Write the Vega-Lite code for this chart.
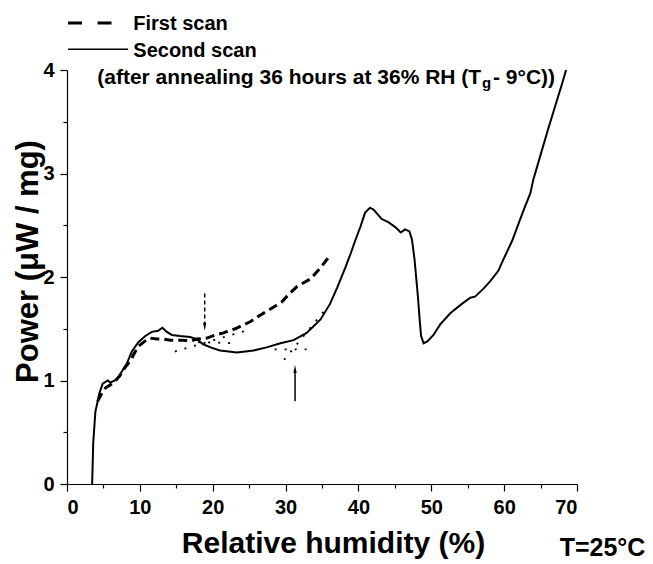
{
  "$schema": "https://vega.github.io/schema/vega-lite/v6.json",
  "width": 510,
  "height": 414,
  "autosize": "none",
  "padding": {"left": 67, "top": 70, "right": 76, "bottom": 80},
  "background": "white",
  "config": {
    "view": {"stroke": null},
    "axis": {"grid": false, "domainColor": "black", "tickColor": "black", "labelColor": "black", "titleColor": "black", "labelFont": "Liberation Sans", "titleFont": "Liberation Sans", "labelFontWeight": "bold", "labelFontSize": 20, "titleFontWeight": "bold", "domainWidth": 1.2, "tickWidth": 1.2},
    "text": {"font": "Liberation Sans", "fontWeight": "bold", "color": "black"}
  },
  "datasets": {
    "scans": [
      {"scan": "Second scan", "rh": 3.45, "p": 0.0},
      {"scan": "Second scan", "rh": 3.6, "p": 0.4},
      {"scan": "Second scan", "rh": 3.9, "p": 0.7},
      {"scan": "Second scan", "rh": 4.15, "p": 0.78},
      {"scan": "Second scan", "rh": 4.45, "p": 0.88},
      {"scan": "Second scan", "rh": 4.9, "p": 0.97},
      {"scan": "Second scan", "rh": 5.6, "p": 1.0},
      {"scan": "Second scan", "rh": 5.95, "p": 0.98},
      {"scan": "Second scan", "rh": 6.85, "p": 1.01},
      {"scan": "Second scan", "rh": 7.55, "p": 1.09},
      {"scan": "Second scan", "rh": 8.25, "p": 1.17},
      {"scan": "Second scan", "rh": 8.9, "p": 1.28},
      {"scan": "Second scan", "rh": 9.8, "p": 1.37},
      {"scan": "Second scan", "rh": 10.75, "p": 1.43},
      {"scan": "Second scan", "rh": 11.65, "p": 1.47},
      {"scan": "Second scan", "rh": 12.5, "p": 1.48},
      {"scan": "Second scan", "rh": 13.1, "p": 1.51},
      {"scan": "Second scan", "rh": 13.7, "p": 1.47},
      {"scan": "Second scan", "rh": 14.4, "p": 1.44},
      {"scan": "Second scan", "rh": 15.5, "p": 1.43},
      {"scan": "Second scan", "rh": 16.9, "p": 1.42},
      {"scan": "Second scan", "rh": 17.8, "p": 1.4},
      {"scan": "Second scan", "rh": 18.7, "p": 1.35},
      {"scan": "Second scan", "rh": 19.7, "p": 1.32},
      {"scan": "Second scan", "rh": 21.0, "p": 1.29},
      {"scan": "Second scan", "rh": 22.2, "p": 1.28},
      {"scan": "Second scan", "rh": 23.3, "p": 1.27},
      {"scan": "Second scan", "rh": 24.5, "p": 1.28},
      {"scan": "Second scan", "rh": 25.6, "p": 1.29},
      {"scan": "Second scan", "rh": 27.4, "p": 1.32},
      {"scan": "Second scan", "rh": 29.3, "p": 1.36},
      {"scan": "Second scan", "rh": 31.1, "p": 1.39},
      {"scan": "Second scan", "rh": 32.9, "p": 1.46},
      {"scan": "Second scan", "rh": 34.8, "p": 1.59},
      {"scan": "Second scan", "rh": 36.1, "p": 1.74},
      {"scan": "Second scan", "rh": 37.1, "p": 1.9},
      {"scan": "Second scan", "rh": 38.2, "p": 2.09},
      {"scan": "Second scan", "rh": 38.9, "p": 2.22},
      {"scan": "Second scan", "rh": 39.6, "p": 2.36},
      {"scan": "Second scan", "rh": 40.3, "p": 2.49},
      {"scan": "Second scan", "rh": 40.9, "p": 2.62},
      {"scan": "Second scan", "rh": 41.6, "p": 2.67},
      {"scan": "Second scan", "rh": 42.1, "p": 2.65},
      {"scan": "Second scan", "rh": 43.2, "p": 2.56},
      {"scan": "Second scan", "rh": 44.1, "p": 2.53},
      {"scan": "Second scan", "rh": 45.1, "p": 2.48},
      {"scan": "Second scan", "rh": 45.8, "p": 2.43},
      {"scan": "Second scan", "rh": 46.4, "p": 2.46},
      {"scan": "Second scan", "rh": 47.0, "p": 2.44},
      {"scan": "Second scan", "rh": 47.35, "p": 2.36},
      {"scan": "Second scan", "rh": 47.7, "p": 2.17},
      {"scan": "Second scan", "rh": 47.95, "p": 1.98},
      {"scan": "Second scan", "rh": 48.2, "p": 1.78},
      {"scan": "Second scan", "rh": 48.4, "p": 1.59},
      {"scan": "Second scan", "rh": 48.6, "p": 1.43},
      {"scan": "Second scan", "rh": 48.95, "p": 1.36},
      {"scan": "Second scan", "rh": 49.5, "p": 1.38},
      {"scan": "Second scan", "rh": 50.3, "p": 1.44},
      {"scan": "Second scan", "rh": 51.2, "p": 1.54},
      {"scan": "Second scan", "rh": 52.6, "p": 1.65},
      {"scan": "Second scan", "rh": 54.2, "p": 1.74},
      {"scan": "Second scan", "rh": 55.35, "p": 1.8},
      {"scan": "Second scan", "rh": 56.0, "p": 1.81},
      {"scan": "Second scan", "rh": 57.2, "p": 1.89},
      {"scan": "Second scan", "rh": 58.1, "p": 1.96},
      {"scan": "Second scan", "rh": 59.2, "p": 2.06},
      {"scan": "Second scan", "rh": 59.9, "p": 2.17},
      {"scan": "Second scan", "rh": 61.1, "p": 2.35},
      {"scan": "Second scan", "rh": 62.0, "p": 2.52},
      {"scan": "Second scan", "rh": 62.7, "p": 2.65},
      {"scan": "Second scan", "rh": 63.6, "p": 2.81},
      {"scan": "Second scan", "rh": 64.0, "p": 2.94},
      {"scan": "Second scan", "rh": 65.0, "p": 3.18},
      {"scan": "Second scan", "rh": 66.0, "p": 3.42},
      {"scan": "Second scan", "rh": 67.0, "p": 3.65},
      {"scan": "Second scan", "rh": 68.0, "p": 3.88},
      {"scan": "Second scan", "rh": 68.5, "p": 4.0},
      {"scan": "First scan", "rh": 4.2, "p": 0.8},
      {"scan": "First scan", "rh": 4.8, "p": 0.88},
      {"scan": "First scan", "rh": 5.3, "p": 0.93},
      {"scan": "First scan", "rh": 6.0, "p": 0.96},
      {"scan": "First scan", "rh": 6.4, "p": 0.98},
      {"scan": "First scan", "rh": 7.2, "p": 1.04},
      {"scan": "First scan", "rh": 8.0, "p": 1.13},
      {"scan": "First scan", "rh": 8.7, "p": 1.19},
      {"scan": "First scan", "rh": 9.3, "p": 1.27},
      {"scan": "First scan", "rh": 9.8, "p": 1.33},
      {"scan": "First scan", "rh": 10.7, "p": 1.38},
      {"scan": "First scan", "rh": 11.4, "p": 1.41},
      {"scan": "First scan", "rh": 12.35, "p": 1.4},
      {"scan": "First scan", "rh": 13.3, "p": 1.4},
      {"scan": "First scan", "rh": 14.2, "p": 1.39},
      {"scan": "First scan", "rh": 15.0, "p": 1.39},
      {"scan": "First scan", "rh": 15.8, "p": 1.39},
      {"scan": "First scan", "rh": 16.9, "p": 1.38},
      {"scan": "First scan", "rh": 17.8, "p": 1.4},
      {"scan": "First scan", "rh": 19.2, "p": 1.41},
      {"scan": "First scan", "rh": 20.35, "p": 1.44},
      {"scan": "First scan", "rh": 21.5, "p": 1.46},
      {"scan": "First scan", "rh": 22.2, "p": 1.48},
      {"scan": "First scan", "rh": 23.1, "p": 1.5},
      {"scan": "First scan", "rh": 24.0, "p": 1.53},
      {"scan": "First scan", "rh": 25.2, "p": 1.57},
      {"scan": "First scan", "rh": 26.5, "p": 1.63},
      {"scan": "First scan", "rh": 27.45, "p": 1.67},
      {"scan": "First scan", "rh": 28.6, "p": 1.72},
      {"scan": "First scan", "rh": 29.5, "p": 1.76},
      {"scan": "First scan", "rh": 30.4, "p": 1.83},
      {"scan": "First scan", "rh": 31.6, "p": 1.91},
      {"scan": "First scan", "rh": 33.4, "p": 1.98},
      {"scan": "First scan", "rh": 34.8, "p": 2.09},
      {"scan": "First scan", "rh": 35.9, "p": 2.19}
    ],
    "guides": [
      {"seg": "tangent 1", "rh": 14.8, "p": 1.28},
      {"seg": "tangent 1", "rh": 24.5, "p": 1.48},
      {"seg": "baseline 1", "rh": 18.0, "p": 1.37},
      {"seg": "baseline 1", "rh": 23.5, "p": 1.36},
      {"seg": "baseline 2", "rh": 28.5, "p": 1.3},
      {"seg": "baseline 2", "rh": 34.0, "p": 1.3},
      {"seg": "tangent 2", "rh": 29.8, "p": 1.2},
      {"seg": "tangent 2", "rh": 35.5, "p": 1.69}
    ]
  },
  "resolve": {"axis": {"x": "independent", "y": "independent"}},
  "layer": [
    {
      "data": {"name": "scans"},
      "transform": [{"filter": "datum.scan === 'Second scan'"}],
      "mark": {"type": "line", "color": "black", "strokeWidth": 2},
      "encoding": {
        "x": {"field": "rh", "type": "quantitative", "scale": {"domain": [0, 70], "nice": false, "zero": false},
              "axis": {"orient": "bottom", "values": [0, 10, 20, 30, 40, 50, 60, 70], "tickSize": 7, "labelPadding": 6, "title": "Relative humidity (%)", "titleFontSize": 30, "titleX": 266, "titleY": 68, "titleAlign": "center", "titleBaseline": "alphabetic"}},
        "y": {"field": "p", "type": "quantitative", "scale": {"domain": [0, 4], "nice": false},
              "axis": {"orient": "left", "values": [0, 1, 2, 3, 4], "tickSize": 7, "labelPadding": 6, "title": "Power (μW / mg)", "titleFontSize": 31, "titleAngle": -90, "titleX": -30, "titleY": 191, "titleAlign": "center", "titleBaseline": "alphabetic"}}
      }
    },
    {
      "data": {"name": "scans"},
      "transform": [{"filter": "datum.scan === 'First scan'"}],
      "mark": {"type": "line", "color": "black", "strokeWidth": 3, "strokeDash": [9, 5]},
      "encoding": {
        "x": {"field": "rh", "type": "quantitative",
              "axis": {"orient": "bottom", "values": [5, 15, 25, 35, 45, 55, 65], "labels": false, "domain": false, "tickSize": 4, "title": null}},
        "y": {"field": "p", "type": "quantitative",
              "axis": {"orient": "left", "values": [0.5, 1.5, 2.5, 3.5], "labels": false, "domain": false, "tickSize": 4, "title": null}}
      }
    },
    {
      "data": {"name": "guides"},
      "mark": {"type": "line", "color": "black", "strokeWidth": 1.8, "strokeDash": [2, 8]},
      "encoding": {
        "x": {"field": "rh", "type": "quantitative", "axis": null},
        "y": {"field": "p", "type": "quantitative", "axis": null},
        "detail": {"field": "seg"}
      }
    },
    {
      "data": {"values": [{}]},
      "mark": {"type": "rule", "color": "black", "strokeWidth": 1.5, "strokeDash": [4, 3]},
      "encoding": {
        "x": {"datum": 18.9, "type": "quantitative", "axis": null},
        "y": {"datum": 1.84, "type": "quantitative", "axis": null},
        "y2": {"datum": 1.52}
      }
    },
    {
      "data": {"values": [{}]},
      "mark": {"type": "rule", "color": "black", "strokeWidth": 1.5},
      "encoding": {
        "x": {"datum": 31.3, "type": "quantitative", "axis": null},
        "y": {"datum": 0.8, "type": "quantitative", "axis": null},
        "y2": {"datum": 1.11}
      }
    },
    {
      "data": {"values": [{}]},
      "mark": {"type": "point", "shape": "M-0.4,-1L0,1L0.4,-1Z", "filled": true, "color": "black", "opacity": 1, "size": 64},
      "encoding": {
        "x": {"datum": 18.9, "type": "quantitative", "axis": null},
        "y": {"datum": 1.52, "type": "quantitative", "axis": null}
      }
    },
    {
      "data": {"values": [{}]},
      "mark": {"type": "point", "shape": "M-0.4,1L0,-1L0.4,1Z", "filled": true, "color": "black", "opacity": 1, "size": 64},
      "encoding": {
        "x": {"datum": 31.3, "type": "quantitative", "axis": null},
        "y": {"datum": 1.11, "type": "quantitative", "axis": null}
      }
    },
    {
      "data": {"values": [{}]},
      "mark": {"type": "rule", "color": "black", "strokeWidth": 3, "strokeDash": [14, 15.5]},
      "encoding": {
        "x": {"datum": 0.14, "type": "quantitative", "axis": null},
        "x2": {"datum": 6.2},
        "y": {"datum": 4.455, "type": "quantitative", "axis": null}
      }
    },
    {
      "data": {"values": [{}]},
      "mark": {"type": "rule", "color": "black", "strokeWidth": 1.5},
      "encoding": {
        "x": {"datum": 0.14, "type": "quantitative", "axis": null},
        "x2": {"datum": 8.39},
        "y": {"datum": 4.2, "type": "quantitative", "axis": null}
      }
    },
    {
      "data": {"values": [{}]},
      "mark": {"type": "text", "text": "First scan", "align": "left", "baseline": "alphabetic", "fontSize": 20},
      "encoding": {
        "x": {"datum": 9.1, "type": "quantitative", "axis": null},
        "y": {"datum": 4.39, "type": "quantitative", "axis": null}
      }
    },
    {
      "data": {"values": [{}]},
      "mark": {"type": "text", "text": "Second scan", "align": "left", "baseline": "alphabetic", "fontSize": 20},
      "encoding": {
        "x": {"datum": 9.1, "type": "quantitative", "axis": null},
        "y": {"datum": 4.124, "type": "quantitative", "axis": null}
      }
    },
    {
      "data": {"values": [{}]},
      "mark": {"type": "text", "text": "(after annealing 36 hours at 36% RH (T", "align": "right", "baseline": "alphabetic", "fontSize": 21},
      "encoding": {
        "x": {"datum": 56.85, "type": "quantitative", "axis": null},
        "y": {"datum": 3.86, "type": "quantitative", "axis": null}
      }
    },
    {
      "data": {"values": [{}]},
      "mark": {"type": "text", "text": "g", "align": "left", "baseline": "alphabetic", "fontSize": 15},
      "encoding": {
        "x": {"datum": 56.96, "type": "quantitative", "axis": null},
        "y": {"datum": 3.826, "type": "quantitative", "axis": null}
      }
    },
    {
      "data": {"values": [{}]},
      "mark": {"type": "text", "text": "- 9°C))", "align": "left", "baseline": "alphabetic", "fontSize": 21},
      "encoding": {
        "x": {"datum": 58.47, "type": "quantitative", "axis": null},
        "y": {"datum": 3.86, "type": "quantitative", "axis": null}
      }
    },
    {
      "data": {"values": [{}]},
      "mark": {"type": "text", "text": "T=25°C", "align": "center", "baseline": "alphabetic", "fontSize": 25},
      "encoding": {
        "x": {"datum": 73.5, "type": "quantitative", "axis": null},
        "y": {"datum": -0.7, "type": "quantitative", "axis": null}
      }
    }
  ]
}
